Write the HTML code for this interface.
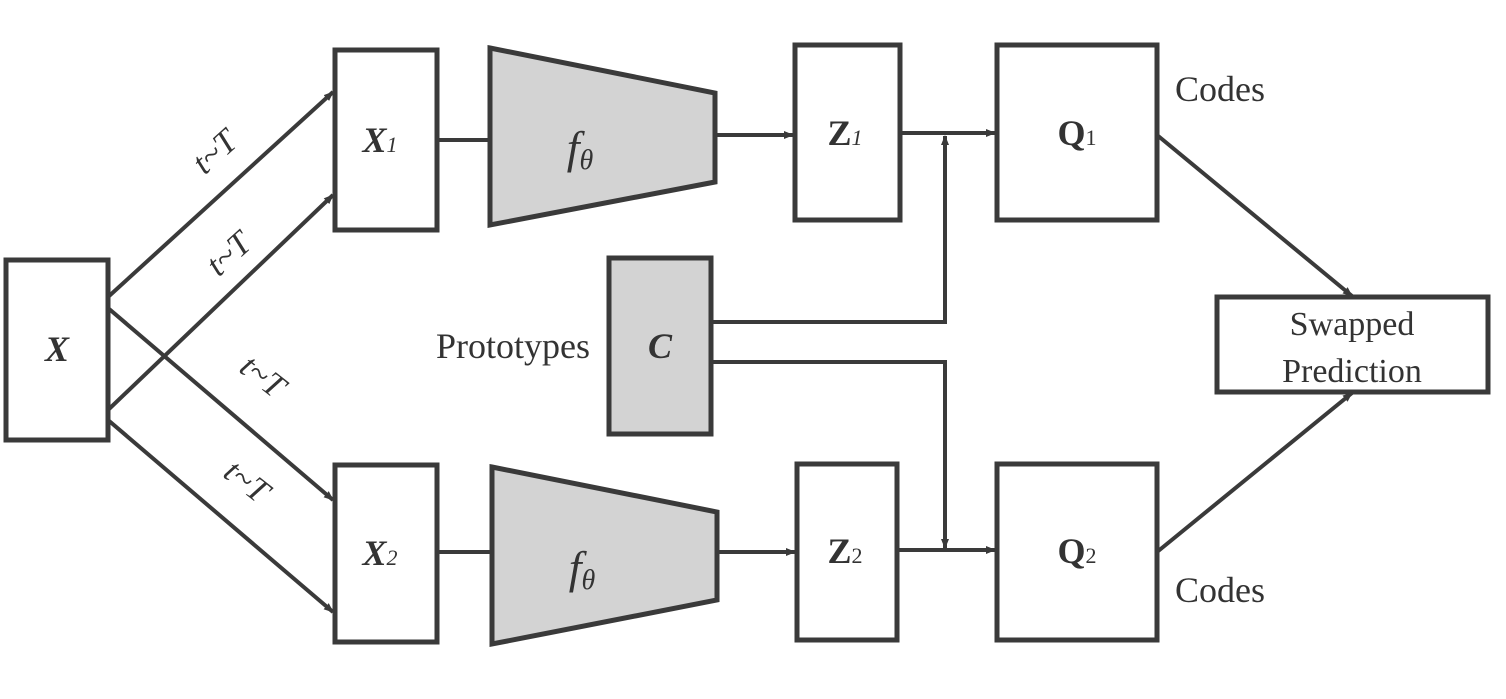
<!DOCTYPE html>
<html><head><meta charset="utf-8"><style>html,body{margin:0;padding:0;background:#fff}svg{display:block}</style></head>
<body>
<svg width="1506" height="699" viewBox="0 0 1506 699" xmlns="http://www.w3.org/2000/svg" font-family="Liberation Serif, serif" fill="#333">
<defs><marker id="a" markerWidth="10" markerHeight="10" refX="9" refY="5" orient="auto" markerUnits="userSpaceOnUse" viewBox="0 0 10 10"><path d="M0,1 L10,5 L0,9 Z" fill="#3a3a3a"/></marker></defs>
<g stroke="#3a3a3a" stroke-width="5" fill="none">
<rect x="6" y="260" width="102" height="180" fill="#fff"/>
<rect x="335" y="50" width="102" height="180" fill="#fff"/>
<rect x="335" y="465" width="102" height="177" fill="#fff"/>
<polygon points="490,48 715,93 715,182 490,225" fill="#d3d3d3"/>
<polygon points="492,467 717,512 717,600 492,644" fill="#d3d3d3"/>
<rect x="795" y="45" width="105" height="175" fill="#fff"/>
<rect x="797" y="464" width="100" height="176" fill="#fff"/>
<rect x="997" y="45" width="160" height="175" fill="#fff"/>
<rect x="997" y="464" width="160" height="176" fill="#fff"/>
<rect x="609" y="258" width="102" height="176" fill="#d3d3d3"/>
<rect x="1217" y="297" width="271" height="95" fill="#fff"/>
<g stroke-width="4">
<line x1="108" y1="297" x2="333" y2="92" marker-end="url(#a)"/>
<line x1="108" y1="410" x2="333" y2="195" marker-end="url(#a)"/>
<line x1="108" y1="308" x2="333" y2="500" marker-end="url(#a)"/>
<line x1="108" y1="420" x2="333" y2="612" marker-end="url(#a)"/>
<line x1="437" y1="140" x2="490" y2="140"/>
<line x1="437" y1="552" x2="492" y2="552"/>
<line x1="715" y1="135" x2="793" y2="135" marker-end="url(#a)"/>
<line x1="717" y1="552" x2="795" y2="552" marker-end="url(#a)"/>
<line x1="900" y1="133" x2="995" y2="133" marker-end="url(#a)"/>
<line x1="897" y1="550" x2="995" y2="550" marker-end="url(#a)"/>
<polyline points="711,322 945,322 945,136" marker-end="url(#a)"/>
<polyline points="711,362 945,362 945,548" marker-end="url(#a)"/>
<line x1="1157" y1="135" x2="1352" y2="296" marker-end="url(#a)"/>
<line x1="1157" y1="552" x2="1352" y2="393" marker-end="url(#a)"/>
</g></g>
<g font-size="36" fill="#333">
<text x="57" y="361" text-anchor="middle" font-weight="bold" font-style="italic">X</text>
<text x="380" y="152" text-anchor="middle" font-weight="bold" font-style="italic">X<tspan font-size="22" font-weight="normal">1</tspan></text>
<text x="380" y="565" text-anchor="middle" font-weight="bold" font-style="italic">X<tspan font-size="22" font-weight="normal">2</tspan></text>
<text x="845" y="145" text-anchor="middle" font-weight="bold">Z<tspan font-size="22" font-weight="normal" font-style="italic">1</tspan></text>
<text x="845" y="563" text-anchor="middle" font-weight="bold">Z<tspan font-size="22" font-weight="normal">2</tspan></text>
<text x="1077" y="145" text-anchor="middle" font-weight="bold">Q<tspan font-size="22" font-weight="normal">1</tspan></text>
<text x="1077" y="563" text-anchor="middle" font-weight="bold">Q<tspan font-size="22" font-weight="normal">2</tspan></text>
<text x="660" y="358" text-anchor="middle" font-weight="bold" font-style="italic">C</text>
<text x="580" y "358" text-anchor="end"></text>
<text x="590" y="358" text-anchor="end">Prototypes</text>
<text x="1175" y="101">Codes</text>
<text x="1175" y="602">Codes</text>
<text x="1352" y="335" text-anchor="middle" font-size="34">Swapped</text>
<text x="1352" y="382" text-anchor="middle" font-size="34">Prediction</text>
<text x="580" y="163" text-anchor="middle" font-size="46" font-style="italic">f<tspan font-size="28" dy="6">θ</tspan></text>
<text x="582" y="583" text-anchor="middle" font-size="46" font-style="italic">f<tspan font-size="28" dy="6">θ</tspan></text>
<g font-size="34" font-style="italic">
<text transform="translate(222,160) rotate(-42)" text-anchor="middle">t~T</text>
<text transform="translate(236,262) rotate(-42)" text-anchor="middle">t~T</text>
<text transform="translate(256,385) rotate(38)" text-anchor="middle">t~T</text>
<text transform="translate(240,490) rotate(38)" text-anchor="middle">t~T</text>
</g></g>
</svg>
</body></html>
